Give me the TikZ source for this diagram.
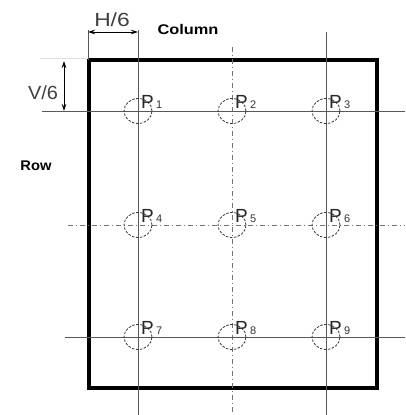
\documentclass[tikz,border=0pt]{standalone}
\usepackage{fontspec}
\setmainfont{Liberation Sans}
\usetikzlibrary{arrows.meta,shapes.geometric}
\begin{document}
\begin{tikzpicture}[x=1pt,y=-1pt,
  thinline/.style={draw=black!65,line width=0.8pt},
  axisline/.style={draw=black!55,line width=0.7pt,dash pattern=on 5pt off 3pt on 1pt off 3pt},
  hole/.style={draw=black!80,line width=0.8pt,dash pattern=on 2.5pt off 1.5pt,ellipse,minimum width=28pt,minimum height=25pt,inner sep=0pt},
  plabel/.style={font=\fontsize{19}{19}\selectfont,inner sep=0pt,anchor=base west,text=black!85},
  psub/.style={font=\fontsize{11}{11}\selectfont,inner sep=0pt,anchor=base west,text=black!80},
  dimtext/.style={font=\fontsize{19}{19}\selectfont,inner sep=0pt,text=black!75},
  boldtext/.style={font=\bfseries\fontsize{14}{14}\selectfont,inner sep=0pt,text=black},
  dimarrow/.style={draw=black,line width=0.8pt,{Stealth[length=7pt,width=4.5pt]}-{Stealth[length=7pt,width=4.5pt]}}
]
\useasboundingbox (0,0) rectangle (405,415);
% grid coordinates
\coordinate (c1t) at (138,30);  \coordinate (c1b) at (138,415);
\coordinate (c2t) at (232,47);  \coordinate (c2b) at (232,415);
\coordinate (c3t) at (326,32);  \coordinate (c3b) at (326,415);
\coordinate (r1l) at (42,111);  \coordinate (r1r) at (405,111);
\coordinate (r2l) at (68,225);  \coordinate (r2r) at (405,225);
\coordinate (r3l) at (65,337);  \coordinate (r3r) at (405,337);
% outer frame
\coordinate (tl) at (89,60); \coordinate (br) at (377,388);
\draw[line width=3.6pt] (tl) rectangle (br);
% grid lines
\draw[thinline] (c1t) -- (c1b);
\draw[thinline] (c3t) -- (c3b);
\draw[axisline] (c2t) -- (c2b);
\draw[thinline] (r1l) -- (r1r);
\draw[axisline] (r2l) -- (r2r);
\draw[thinline] (r3l) -- (r3r);
% dimension H/6
\coordinate (e1t) at (88,30); \coordinate (e1b) at (88,60);
\draw[thinline] (e1t) -- (e1b);
\coordinate (h1) at (88,32); \coordinate (h2) at (138,32);
\draw[dimarrow] (h1) -- (h2);
\node[dimtext,xscale=1.2] (hlab) at (112,20) {H/6};
% dimension V/6
\coordinate (ve1) at (40,58); \coordinate (ve2) at (88,58);
\draw[draw=black!12,line width=0.8pt] (ve1) -- (ve2);
\coordinate (v1) at (64,61); \coordinate (v2) at (64,111);
\draw[dimarrow] (v1) -- (v2);
\node[dimtext,xscale=1.05] (vlab) at (43,93) {V/6};
% titles
\node[boldtext,xscale=1.17] (col) at (188,29) {Column};
\node[boldtext,xscale=1.05] (row) at (36,166) {Row};
% holes and labels
\foreach \n/\x/\y in {1/138/111,2/232/111,3/326/111,4/138/225,5/232/225,6/326/225,7/138/337,8/232/337,9/326/337}{
  \node[hole] (p\n) at (\x,\y) {};
  \node[plabel] (pl\n) at (\x+3,\y-3) {P};
  \node[psub] (ps\n) at (\x+18,\y-3) {\n};
}
\end{tikzpicture}
\end{document}
